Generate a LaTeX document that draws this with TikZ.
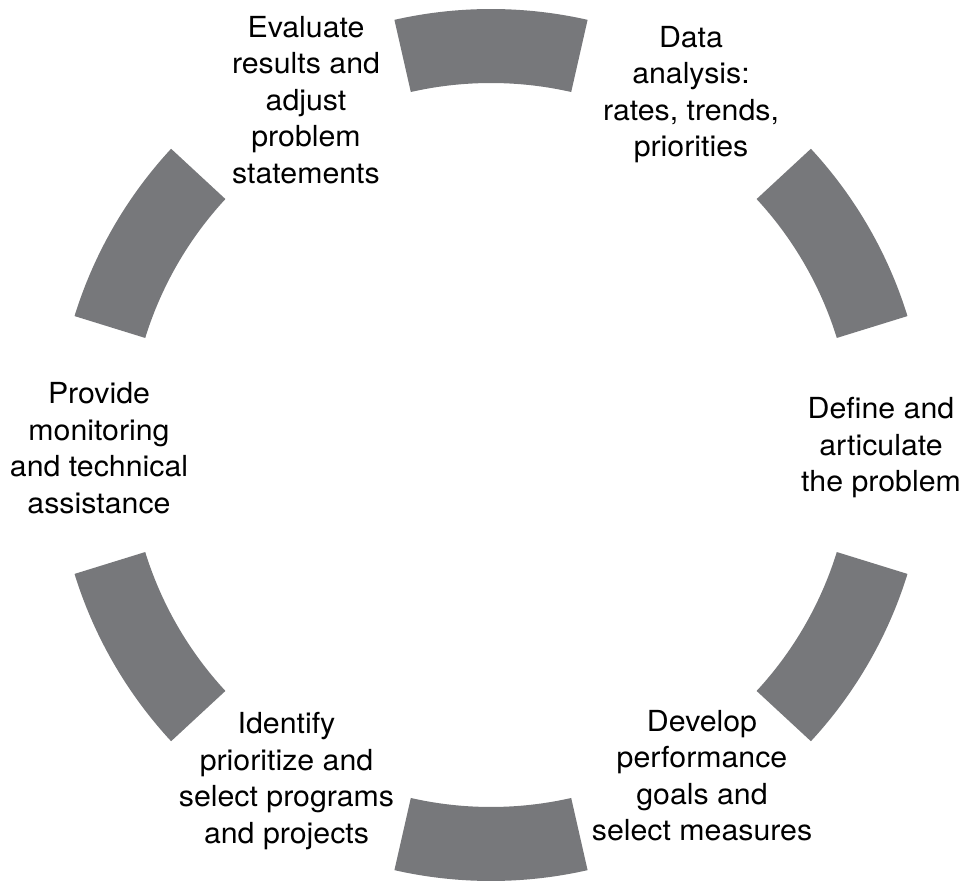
\documentclass[tikz,border=0pt]{standalone}
\usepackage{fontspec}
\setmainfont{TeX Gyre Heros}[FakeStretch=1.045]
\definecolor{seggray}{HTML}{77787B}
\begin{document}
\begin{tikzpicture}[x=1pt,y=1pt,
  seg/.style={fill=seggray,draw=none},
  lbl/.style={anchor=north,align=center,inner sep=0pt,text=black,
    font=\fontsize{29pt}{36.5pt}\selectfont}]
\useasboundingbox (0pt,0pt) rectangle (966pt,884pt);
\coordinate (c) at (491pt,439pt);
\foreach \m in {90,150,210,270,330,30}{
  \fill[seg,shift={(c)}] (\m-12.8:436pt) arc[start angle=\m-12.8,end angle=\m+12.8,radius=436pt]
    -- (\m+12.8:362pt) arc[start angle=\m+12.8,end angle=\m-12.8,radius=362pt] -- cycle;
}
\node[lbl] (evaluate) at (306pt,868pt) {Evaluate\\results and\\adjust\\problem\\statements};
\node[lbl] (data) at (691pt,858pt) {Data\\analysis:\\rates, trends,\\priorities};
\node[lbl] (define) at (881pt,486.5pt) {Define and\\articulate\\the problem};
\node[lbl] (develop) at (702pt,174pt) {Develop\\performance\\goals and\\select measures};
\node[lbl] (identify) at (286.5pt,171.5pt) {Identify\\prioritize and\\select programs\\and projects};
\node[lbl] (provide) at (99pt,501.5pt) {Provide\\monitoring\\and technical\\assistance};
\end{tikzpicture}
\end{document}
